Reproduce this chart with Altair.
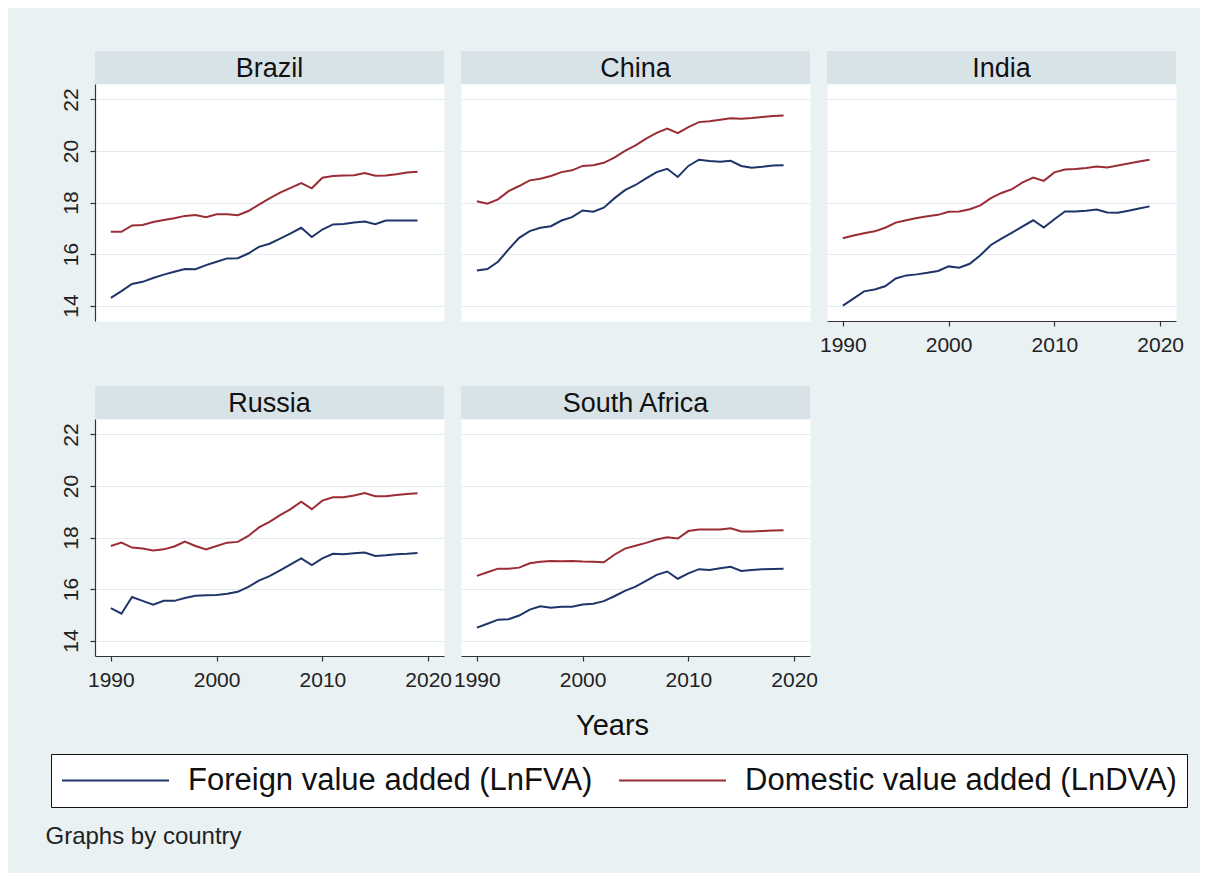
import altair as alt
import pandas as pd

years = list(range(1990, 2020))
countries = ["Brazil", "China", "India", "Russia", "South Africa"]
series_names = ["Foreign value added (LnFVA)", "Domestic value added (LnDVA)"]

brazil_fva = [14.30, 14.56, 14.84, 14.92, 15.07, 15.20, 15.31, 15.42, 15.41, 15.57,
              15.70, 15.83, 15.84, 16.02, 16.28, 16.40, 16.60, 16.80, 17.02, 16.66,
              16.95, 17.15, 17.17, 17.22, 17.26, 17.16, 17.30, 17.30, 17.30, 17.30]
brazil_dva = [16.86, 16.86, 17.11, 17.13, 17.24, 17.32, 17.39, 17.48, 17.51, 17.43,
              17.54, 17.54, 17.51, 17.67, 17.92, 18.16, 18.38, 18.57, 18.75, 18.55,
              18.96, 19.03, 19.05, 19.06, 19.14, 19.04, 19.05, 19.10, 19.16, 19.19]
china_fva = [15.36, 15.42, 15.70, 16.18, 16.63, 16.89, 17.02, 17.08, 17.30, 17.43,
             17.69, 17.64, 17.80, 18.16, 18.48, 18.68, 18.94, 19.18, 19.31, 18.99,
             19.42, 19.66, 19.61, 19.58, 19.62, 19.42, 19.35, 19.39, 19.44, 19.45]
china_dva = [18.05, 17.95, 18.12, 18.44, 18.64, 18.86, 18.92, 19.03, 19.18, 19.25,
             19.42, 19.45, 19.54, 19.74, 20.00, 20.22, 20.48, 20.70, 20.87, 20.69,
             20.93, 21.12, 21.15, 21.21, 21.27, 21.25, 21.28, 21.32, 21.36, 21.38]
india_fva = [14.00, 14.27, 14.55, 14.62, 14.75, 15.05, 15.17, 15.21, 15.27, 15.34,
             15.52, 15.47, 15.62, 15.95, 16.35, 16.60, 16.83, 17.07, 17.31, 17.03,
             17.35, 17.65, 17.65, 17.68, 17.73, 17.61, 17.60, 17.68, 17.77, 17.85]
india_dva = [16.61, 16.72, 16.81, 16.88, 17.02, 17.22, 17.31, 17.40, 17.47, 17.52,
             17.64, 17.65, 17.74, 17.89, 18.17, 18.37, 18.52, 18.78, 18.97, 18.84,
             19.17, 19.28, 19.30, 19.34, 19.40, 19.36, 19.44, 19.51, 19.59, 19.66]
russia_fva = [15.26, 15.04, 15.69, 15.54, 15.39, 15.54, 15.54, 15.65, 15.74, 15.76,
              15.77, 15.82, 15.89, 16.08, 16.33, 16.50, 16.72, 16.96, 17.19, 16.93,
              17.19, 17.37, 17.35, 17.39, 17.42, 17.28, 17.31, 17.35, 17.37, 17.40]
russia_dva = [17.67, 17.80, 17.61, 17.57, 17.50, 17.54, 17.65, 17.84, 17.67, 17.54,
              17.67, 17.80, 17.83, 18.06, 18.39, 18.61, 18.87, 19.10, 19.39, 19.10,
              19.43, 19.56, 19.56, 19.63, 19.73, 19.60, 19.60, 19.65, 19.69, 19.72]
safrica_fva = [14.50, 14.65, 14.81, 14.83, 14.97, 15.20, 15.33, 15.27, 15.31, 15.31,
               15.40, 15.43, 15.53, 15.72, 15.93, 16.09, 16.32, 16.55, 16.68, 16.40,
               16.61, 16.77, 16.74, 16.81, 16.86, 16.70, 16.74, 16.77, 16.78, 16.79]
safrica_dva = [16.51, 16.65, 16.79, 16.79, 16.83, 17.00, 17.06, 17.09, 17.08, 17.09,
               17.07, 17.06, 17.04, 17.33, 17.57, 17.68, 17.79, 17.92, 18.01, 17.96,
               18.25, 18.31, 18.31, 18.31, 18.36, 18.23, 18.23, 18.25, 18.27, 18.28]

y_ticks = [14, 16, 18, 20, 22]
x_ticks = [1990, 2000, 2010, 2020]

fva_all = [brazil_fva, china_fva, india_fva, russia_fva, safrica_fva]
dva_all = [brazil_dva, china_dva, india_dva, russia_dva, safrica_dva]

rows = []
for c, fva, dva in zip(countries, fva_all, dva_all):
    for yr, f, d in zip(years, fva, dva):
        rows.append({"country": c, "year": yr, "series": series_names[0], "value": f})
        rows.append({"country": c, "year": yr, "series": series_names[1], "value": d})
df = pd.DataFrame(rows)

W, H, STRIP = 349, 237, 33
FONT = "Liberation Sans"
NAVY = "#1f3468"
MAROON = "#9a2c35"
GRID = "#e2eaed"
STRIP_COLOR = "#d8e3e8"
BG = "#eaf1f3"


def panel(name, show_y, show_x, x_title=None):
    d = df[df["country"] == name]
    if show_y:
        yaxis = alt.Axis(values=y_ticks, grid=True, labelAngle=270, labelAlign="center",
                         labelBaseline="bottom", labelPadding=9, tickSize=5, title=None)
    else:
        yaxis = alt.Axis(values=y_ticks, grid=True, labels=False, ticks=False,
                         domain=False, title=None)
    xenc_kwargs = dict(scale=alt.Scale(domain=[1988.5, 2021.5], nice=False, zero=False))
    if show_x:
        if x_title:
            xaxis = alt.Axis(values=x_ticks, format="d", grid=False, labelFlush=False,
                             tickSize=5, labelPadding=8, title=x_title, titleX=151, titleY=78,
                             titleBaseline="alphabetic", titleAlign="center",
                             titleFontSize=29, titleFontWeight="normal", titleColor="#111",
                             titleFont=FONT)
        else:
            xaxis = alt.Axis(values=x_ticks, format="d", grid=False, labelFlush=False,
                             tickSize=5, labelPadding=8, title=None)
    else:
        xaxis = None
    lines = alt.Chart(d).mark_line(strokeWidth=2, clip=True).encode(
        x=alt.X("year:Q", axis=xaxis, **xenc_kwargs),
        y=alt.Y("value:Q", axis=yaxis,
                scale=alt.Scale(domain=[13.4, 22.6], nice=False, zero=False)),
        color=alt.Color("series:N",
                        scale=alt.Scale(domain=series_names, range=[NAVY, MAROON]),
                        legend=alt.Legend(title=None, orient="none", legendX=-44, legendY=670,
                                          direction="horizontal", symbolType="stroke",
                                          symbolSize=11449, symbolStrokeWidth=2,
                                          clipHeight=33,
                                          labelFontSize=31, labelFont=FONT, labelColor="#111",
                                          labelLimit=800, labelOffset=18, columnPadding=25,
                                          padding=10, strokeColor="#111", fillColor="white")),
        detail="series:N",
    )
    sdf = pd.DataFrame({"country": [name]})
    rect = alt.Chart(sdf).mark_rect(color=STRIP_COLOR).encode(
        x=alt.value(0), x2=alt.value(W), y=alt.value(-STRIP), y2=alt.value(0))
    txt = alt.Chart(sdf).mark_text(fontSize=27, font=FONT, color="#111",
                                   baseline="middle", align="center").encode(
        x=alt.value(W / 2), y=alt.value(-STRIP / 2 + 1), text="country:N")
    return alt.layer(rect, txt, lines).properties(width=W, height=H)


charts = [
    panel("Brazil", True, False),
    panel("China", False, False),
    panel("India", False, True),
    panel("Russia", True, True),
    panel("South Africa", False, True, x_title="Years"),
]

chart = alt.concat(*charts, columns=3, spacing={"row": 98, "column": 17},
                   bounds="flush").properties(
    padding={"left": 37, "top": 42, "right": 12, "bottom": 24},
    title=alt.TitleParams("Graphs by country", orient="bottom", anchor="start",
                          fontSize=24, font=FONT, fontWeight="normal", color="#222",
                          offset=17, dx=-5),
).configure(background=BG, font=FONT).configure_view(
    stroke="transparent", fill="white"
).configure_axis(
    labelFont=FONT, labelFontSize=21, labelColor="#222", domainColor="#333",
    tickColor="#333", gridColor=GRID, gridWidth=1.2, domainWidth=1.2, tickWidth=1.2,
)

chart.save("out.html", embed_options={"renderer": "svg", "actions": False})
